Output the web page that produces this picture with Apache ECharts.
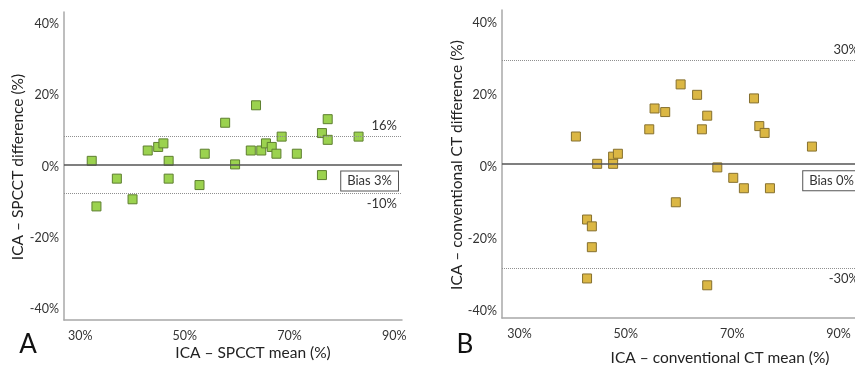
<!DOCTYPE html>
<html>
<head>
<meta charset="utf-8">
<script src="https://cdn.jsdelivr.net/npm/echarts@6/dist/echarts.min.js"></script>
<style>html,body{margin:0;padding:0;background:#fff;}#c{width:855px;height:365px;}</style>
</head>
<body>
<div id="c"></div>
<script>
// Panel A: ICA – SPCCT
var aMean = [32.2,33.1,37.0,40.0,42.9,44.9,45.9,46.9,46.9,52.8,53.8,57.7,59.6,62.6,63.6,64.6,65.5,66.6,67.5,68.5,71.4,76.2,76.2,77.3,77.3,83.2];
var aDiff = [1.6,-11.2,-3.4,-9.2,4.5,5.5,6.5,1.6,-3.4,-5.2,3.6,12.3,0.6,4.5,17.2,4.5,6.5,5.5,3.6,8.4,3.6,9.4,-2.4,13.3,7.5,8.4];
var aLines = [8.4, 0.6, -7.4];            // upper LoA, bias line, lower LoA (drawn positions)
var aLineLabels = ['16%', 'Bias 3%', '-10%'];
// Panel B: ICA – conventional CT
var bMean = [40.6,44.6,42.7,43.6,43.6,42.7,47.6,47.6,48.5,54.4,55.4,57.4,59.4,60.3,63.4,64.3,65.3,65.3,67.2,70.2,72.2,74.1,75.1,76.1,77.1,85.0];
var bDiff = [8.5,0.9,-14.6,-16.5,-22.3,-31.0,2.9,0.9,3.7,10.5,16.3,15.3,-9.8,23.0,20.1,10.5,14.3,-32.9,-0.1,-3.0,-5.9,19.1,11.4,9.5,-5.9,5.7];
var bLines = [29.7, 0.8, -28.1];
var bLineLabels = ['30%', 'Bias 0%', '-30%'];
var xTicks = [30, 50, 70, 90];
var yTicks = [-40, -20, 0, 20, 40];
var pct = function (v) { return v + '%'; };

var FONT = 'Lato';
function pairs(x, y) { return x.map(function (v, i) { return [v, y[i]]; }); }

function axisX(idx, min, max) {
  return {
    type: 'value', gridIndex: idx, min: min, max: max,
    axisLine: { show: true, onZero: false, lineStyle: { color: '#a8a8a8', width: 1.5 } },
    axisTick: { show: false }, splitLine: { show: false },
    axisLabel: { customValues: xTicks, formatter: pct, margin: 9, color: '#333', fontSize: 12.5, fontFamily: FONT }
  };
}
function axisY(idx, min, max) {
  return {
    type: 'value', gridIndex: idx, min: min, max: max,
    axisLine: { show: true, onZero: false, lineStyle: { color: '#a8a8a8', width: 1.5 } },
    axisTick: { show: false }, splitLine: { show: false },
    axisLabel: { customValues: yTicks, formatter: pct, margin: 5, color: '#333', fontSize: 12.5, fontFamily: FONT }
  };
}
function marks(lines, labels, dx) {
  var dotted = { type: 'dotted', color: '#8f8f8f', width: 1 };
  var txt = { color: '#333', fontSize: 13, fontFamily: FONT };
  return {
    silent: true, symbol: 'none', animation: false,
    data: [
      { yAxis: lines[0], lineStyle: dotted, label: Object.assign({ show: true, position: 'insideEndTop', formatter: labels[0], distance: [5 - dx, 4] }, txt) },
      { yAxis: lines[1], lineStyle: { type: 'solid', color: '#555', width: 1.5 },
        label: Object.assign({ show: true, position: 'insideEndBottom', formatter: labels[1], distance: [4 - dx, 7],
          borderColor: '#555', borderWidth: 1, backgroundColor: '#fff', padding: [3, 6, 3, 6] }, txt) },
      { yAxis: lines[2], lineStyle: dotted, label: Object.assign({ show: true, position: 'insideEndBottom', formatter: labels[2], distance: [5 - dx, 4] }, txt) }
    ]
  };
}

var chart = echarts.init(document.getElementById('c'), null, { renderer: 'canvas' });
chart.setOption({
  animation: false,
  grid: [
    { left: 64, top: 12, width: 338, height: 308 },
    { left: 502, top: 10, width: 360, height: 308 }
  ],
  xAxis: [axisX(0, 26.9, 91.5), axisX(1, 26.7, 93.1)],
  yAxis: [axisY(0, -43.1, 43.4), axisY(1, -42.0, 43.7)],
  series: [
    { type: 'scatter', xAxisIndex: 0, yAxisIndex: 0, symbol: 'rect', symbolSize: 9,
      itemStyle: { color: '#9bd24f', borderColor: '#5e7f30', borderWidth: 1, opacity: 1 },
      data: pairs(aMean, aDiff), markLine: marks(aLines, aLineLabels, 0), z: 3 },
    { type: 'scatter', xAxisIndex: 1, yAxisIndex: 1, symbol: 'rect', symbolSize: 9,
      itemStyle: { color: '#dbb744', borderColor: '#86702f', borderWidth: 1, opacity: 1 },
      data: pairs(bMean, bDiff), markLine: marks(bLines, bLineLabels, 9), z: 3 }
  ],
  graphic: [
    { type: 'text', x: 18, y: 167, rotation: Math.PI / 2, style: { text: 'ICA – SPCCT difference (%)', align: 'center', verticalAlign: 'middle', fontSize: 15.5, fontFamily: FONT, fill: '#222' } },
    { type: 'text', x: 253, y: 353, style: { text: 'ICA – SPCCT mean (%)', align: 'center', verticalAlign: 'middle', fontSize: 15.5, fontFamily: FONT, fill: '#222' } },
    { type: 'text', x: 457, y: 165, rotation: Math.PI / 2, style: { text: 'ICA – conventional CT difference (%)', align: 'center', verticalAlign: 'middle', fontSize: 15.5, fontFamily: FONT, fill: '#222' } },
    { type: 'text', x: 720, y: 358, style: { text: 'ICA – conventional CT mean (%)', align: 'center', verticalAlign: 'middle', fontSize: 15.5, fontFamily: FONT, fill: '#222' } },
    { type: 'text', x: 28, y: 345, style: { text: 'A', align: 'center', verticalAlign: 'middle', fontSize: 26, fontFamily: FONT, fill: '#111' } },
    { type: 'text', x: 465, y: 345, style: { text: 'B', align: 'center', verticalAlign: 'middle', fontSize: 26, fontFamily: FONT, fill: '#111' } }
  ]
});
</script>
</body>
</html>
